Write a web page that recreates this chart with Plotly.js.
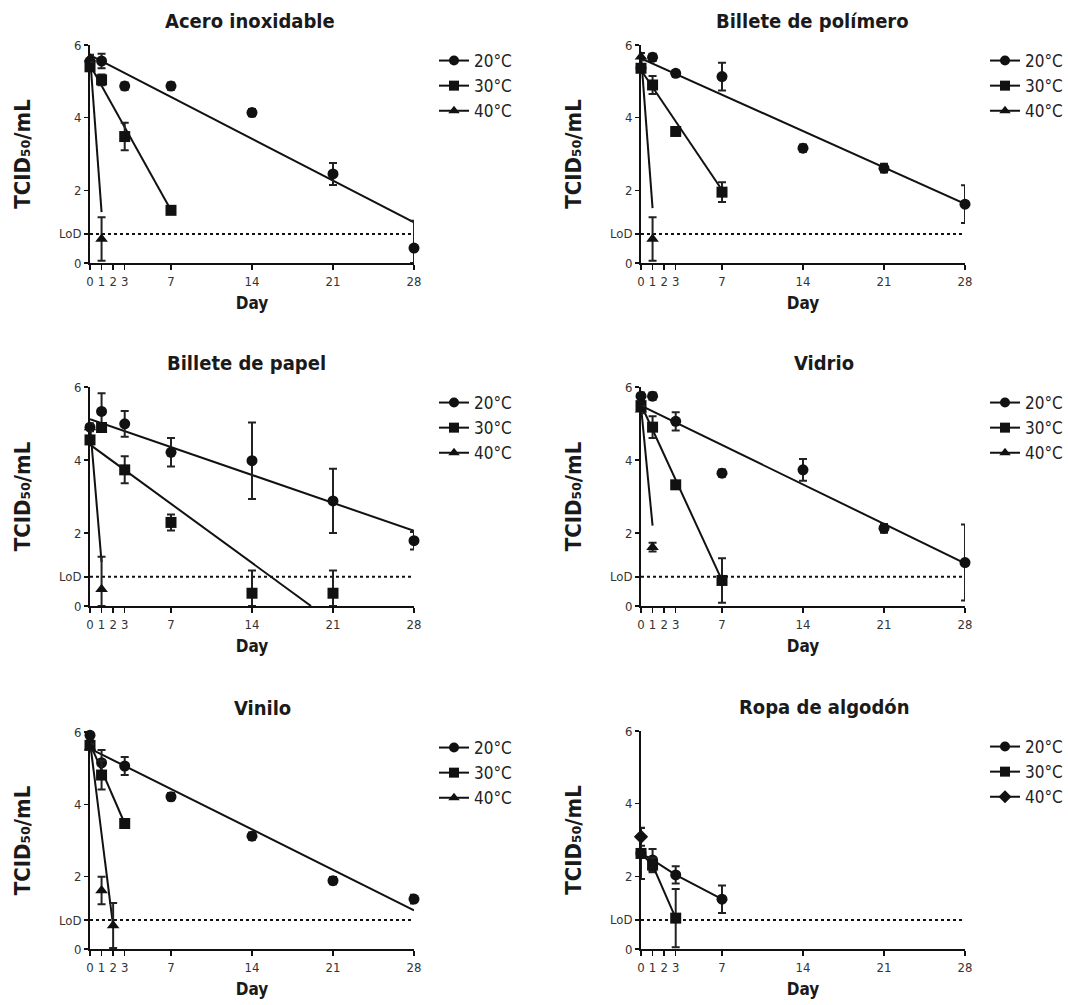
<!DOCTYPE html>
<html>
<head>
<meta charset="utf-8">
<script src="https://cdn.plot.ly/plotly-3.0.1.min.js"></script>
<style>html,body{margin:0;padding:0;background:#fff;}#chart{width:1068px;height:1005px;}</style>
</head>
<body>
<div id="chart"></div>
<script>
// ---------- DATA ----------
const LOD = 0.8;
const Y_TICKS = [0, LOD, 2, 4, 6];
const Y_TICKTEXT = ['0', 'LoD', '2', '4', '6'];
const X_TICKS = [0, 1, 2, 3, 7, 14, 21, 28];
const SERIES_NAMES = ['20°C', '30°C', '40°C'];
const X_TITLE = 'Day';
const Y_TITLE = 'TCID\u2085\u2080/mL';

const PANEL_TITLES = ['Acero inoxidable', 'Billete de polímero', 'Billete de papel', 'Vidrio', 'Vinilo', 'Ropa de algodón'];

// Acero inoxidable
const aceroDays20 = [0, 1, 3, 7, 14, 21, 28];
const acero20 = [5.55, 5.56, 4.87, 4.87, 4.14, 2.45, 0.41];
const acero20Err = [0.15, 0.2, 0.1, 0.1, 0.1, 0.3, 0.75];
const acero20ErrMinus = [0.15, 0.2, 0.1, 0.1, 0.1, 0.3, 0.41];
const aceroDays30 = [0, 1, 3, 7];
const acero30 = [5.4, 5.04, 3.48, 1.45];
const acero30Err = [0.1, 0.15, 0.38, 0.1];
const aceroDays40 = [0, 1];
const acero40 = [5.63, 0.66];
const acero40Err = [0.1, 0.6];
const acero20FitX = [0, 28], acero20FitY = [5.72, 1.12];
const acero30FitX = [0, 7], acero30FitY = [5.45, 1.45];
const acero40FitX = [0, 1], acero40FitY = [5.7, 1.4];

// Billete de polímero
const polDays20 = [0, 1, 3, 7, 14, 21, 28];
const pol20 = [5.37, 5.66, 5.22, 5.13, 3.16, 2.61, 1.62];
const pol20Err = [0.1, 0.1, 0.08, 0.38, 0.1, 0.12, 0.52];
const polDays30 = [0, 1, 3, 7];
const pol30 = [5.36, 4.9, 3.62, 1.95];
const pol30Err = [0.1, 0.25, 0.1, 0.27];
const polDays40 = [0, 1];
const pol40 = [5.68, 0.66];
const pol40Err = [0.1, 0.6];
const pol20FitX = [0, 28], pol20FitY = [5.63, 1.63];
const pol30FitX = [0, 7], pol30FitY = [5.31, 2.01];
const pol40FitX = [0, 1], pol40FitY = [5.72, 1.51];

// Billete de papel
const papDays20 = [0, 1, 3, 7, 14, 21, 28];
const pap20 = [4.9, 5.33, 4.99, 4.21, 3.98, 2.88, 1.79];
const pap20Err = [0.1, 0.5, 0.35, 0.39, 1.05, 0.88, 0.24];
const papDays30 = [0, 1, 3, 7, 14, 21];
const pap30 = [4.55, 4.89, 3.73, 2.29, 0.35, 0.35];
const pap30Err = [0.1, 0.1, 0.37, 0.22, 0.62, 0.62];
const pap30ErrMinus = [0.1, 0.1, 0.37, 0.22, 0.35, 0.35];
const papDays40 = [0, 1];
const pap40 = [4.89, 0.46];
const pap40Err = [0.1, 0.89];
const pap40ErrMinus = [0.1, 0.46];
const pap20FitX = [0, 28], pap20FitY = [5.12, 2.06];
const pap30FitX = [0, 19.1], pap30FitY = [4.42, 0];
const pap40FitX = [0, 1], pap40FitY = [4.95, 1.2];

// Vidrio
const vidDays20 = [0, 1, 3, 7, 14, 21, 28];
const vid20 = [5.75, 5.75, 5.06, 3.64, 3.73, 2.13, 1.19];
const vid20Err = [0.1, 0.1, 0.25, 0.1, 0.3, 0.12, 1.04];
const vidDays30 = [0, 1, 3, 7];
const vid30 = [5.49, 4.9, 3.32, 0.7];
const vid30Err = [0.1, 0.3, 0.05, 0.61];
const vidDays40 = [0, 1];
const vid40 = [5.38, 1.61];
const vid40Err = [0.1, 0.12];
const vid20FitX = [0, 28], vid20FitY = [5.49, 1.17];
const vid30FitX = [0, 7], vid30FitY = [5.52, 0.7];
const vid40FitX = [0, 1], vid40FitY = [5.47, 2.2];

// Vinilo
const vinDays20 = [0, 1, 3, 7, 14, 21, 28];
const vin20 = [5.91, 5.15, 5.06, 4.21, 3.12, 1.89, 1.38];
const vin20Err = [0.08, 0.35, 0.25, 0.1, 0.1, 0.1, 0.12];
const vinDays30 = [0, 1, 3];
const vin30 = [5.63, 4.81, 3.47];
const vin30Err = [0.1, 0.4, 0.08];
const vinDays40 = [0, 1, 2];
const vin40 = [5.57, 1.62, 0.65];
const vin40Err = [0.1, 0.38, 0.62];
const vin20FitX = [0, 28], vin20FitY = [5.54, 1.07];
const vin30FitX = [0, 3], vin30FitY = [5.68, 3.47];
const vin40FitX = [0, 2], vin40FitY = [5.73, 0.63];

// Ropa de algodón (points joined by lines, no fit)
const ropDays20 = [0, 1, 3, 7];
const rop20 = [2.63, 2.45, 2.04, 1.37];
const rop20Err = [0.1, 0.3, 0.24, 0.38];
const ropDays30 = [0, 1, 3];
const rop30 = [2.63, 2.31, 0.85];
const rop30Err = [0.7, 0.2, 0.8];
const ropDays40 = [0];
const rop40 = [3.09];
const rop40Err = [0.25];

// ---------- STYLE / LAYOUT ----------
const FONT = "'DejaVu Sans Condensed','Liberation Sans Narrow','Arial Narrow',sans-serif";
const INK = '#111';
const W = 1068, H = 1005;
const px = v => v / W;
const py = v => 1 - v / H;

const panels = [
  {title: PANEL_TITLES[0], x0: 90, x1: 414, y0: 263, y6: 45, titleX: 250, symbols: ['circle', 'square', 'triangle-up'],
   series: [[aceroDays20, acero20, acero20Err, acero20ErrMinus], [aceroDays30, acero30, acero30Err, acero30Err], [aceroDays40, acero40, acero40Err, acero40Err]],
   fits: [[acero20FitX, acero20FitY], [acero30FitX, acero30FitY], [acero40FitX, acero40FitY]]},
  {title: PANEL_TITLES[1], x0: 641, x1: 965, y0: 263, y6: 45, titleX: 812, symbols: ['circle', 'square', 'triangle-up'],
   series: [[polDays20, pol20, pol20Err, pol20Err], [polDays30, pol30, pol30Err, pol30Err], [polDays40, pol40, pol40Err, pol40Err]],
   fits: [[pol20FitX, pol20FitY], [pol30FitX, pol30FitY], [pol40FitX, pol40FitY]]},
  {title: PANEL_TITLES[2], x0: 90, x1: 414, y0: 606, y6: 387, titleX: 246, symbols: ['circle', 'square', 'triangle-up'],
   series: [[papDays20, pap20, pap20Err, pap20Err], [papDays30, pap30, pap30Err, pap30ErrMinus], [papDays40, pap40, pap40Err, pap40ErrMinus]],
   fits: [[pap20FitX, pap20FitY], [pap30FitX, pap30FitY], [pap40FitX, pap40FitY]]},
  {title: PANEL_TITLES[3], x0: 641, x1: 965, y0: 606, y6: 387, titleX: 824, symbols: ['circle', 'square', 'triangle-up'],
   series: [[vidDays20, vid20, vid20Err, vid20Err], [vidDays30, vid30, vid30Err, vid30Err], [vidDays40, vid40, vid40Err, vid40Err]],
   fits: [[vid20FitX, vid20FitY], [vid30FitX, vid30FitY], [vid40FitX, vid40FitY]]},
  {title: PANEL_TITLES[4], x0: 90, x1: 414, y0: 949, y6: 732, titleX: 262, symbols: ['circle', 'square', 'triangle-up'],
   series: [[vinDays20, vin20, vin20Err, vin20Err], [vinDays30, vin30, vin30Err, vin30Err], [vinDays40, vin40, vin40Err, vin40Err]],
   fits: [[vin20FitX, vin20FitY], [vin30FitX, vin30FitY], [vin40FitX, vin40FitY]]},
  {title: PANEL_TITLES[5], x0: 641, x1: 965, y0: 949, y6: 731, titleX: 824, symbols: ['circle', 'square', 'diamond'], connect: true,
   series: [[ropDays20, rop20, rop20Err, rop20Err], [ropDays30, rop30, rop30Err, rop30Err], [ropDays40, rop40, rop40Err, rop40Err]],
   fits: []}
];

const traces = [];
const layout = {
  width: W, height: H,
  margin: {l: 0, r: 0, t: 0, b: 0},
  paper_bgcolor: '#fff', plot_bgcolor: 'rgba(0,0,0,0)',
  font: {family: FONT, color: INK},
  showlegend: true,
  annotations: []
};

panels.forEach((p, i) => {
  const n = i + 1;
  const sfx = n === 1 ? '' : String(n);
  const xa = 'x' + sfx, ya = 'y' + sfx;
  const legId = 'legend' + sfx;

  layout['xaxis' + sfx] = {
    domain: [px(p.x0), px(p.x1)], range: [0, 28], anchor: ya,
    tickvals: X_TICKS, ticks: 'outside', ticklen: 5, tickwidth: 1.5, tickcolor: INK,
    showline: true, linewidth: 2, linecolor: INK, showgrid: false, zeroline: false,
    tickfont: {family: FONT, size: 13, color: '#333'}, fixedrange: true,
    title: {text: '<b>' + X_TITLE + '</b>', standoff: 10, font: {family: FONT, size: 17, color: '#1a1a1a'}}
  };
  layout['yaxis' + sfx] = {
    domain: [py(p.y0), py(p.y6)], range: [0, 6], anchor: xa,
    tickvals: Y_TICKS, ticktext: Y_TICKTEXT, ticks: 'outside', ticklen: 4, tickwidth: 1.5, tickcolor: INK,
    showline: true, linewidth: 2, linecolor: INK, showgrid: false, zeroline: false,
    tickfont: {family: FONT, size: 13, color: '#333'}, fixedrange: true,
    title: {text: '<b>' + Y_TITLE + '</b>', standoff: 22, font: {family: FONT, size: 22, color: '#1a1a1a'}}
  };
  layout[legId] = {
    x: px(p.x1 + 20), y: py(p.y6 - 2), xanchor: 'left', yanchor: 'top',
    bgcolor: 'rgba(0,0,0,0)', font: {family: FONT, size: 17, color: '#222'},
    tracegroupgap: 0, itemwidth: 30
  };

  // LoD line
  traces.push({type: 'scatter', mode: 'lines', x: [0, 28], y: [LOD, LOD], xaxis: xa, yaxis: ya,
    line: {color: INK, width: 2, dash: '3px,3px'}, showlegend: false, hoverinfo: 'skip'});

  // fit lines
  p.fits.forEach(f => {
    traces.push({type: 'scatter', mode: 'lines', x: f[0], y: f[1], xaxis: xa, yaxis: ya,
      line: {color: INK, width: 2}, showlegend: false, hoverinfo: 'skip'});
  });

  // data points with error bars
  p.series.forEach((s, k) => {
    traces.push({type: 'scatter', mode: p.connect ? 'lines+markers' : 'markers',
      x: s[0], y: s[1], xaxis: xa, yaxis: ya, cliponaxis: false,
      line: {color: INK, width: 2},
      marker: {symbol: p.symbols[k], size: 11, color: INK},
      error_y: {type: 'data', symmetric: false, array: s[2], arrayminus: s[3], color: '#222', thickness: 2, width: 4},
      name: SERIES_NAMES[k], showlegend: false});
  });

  // legend entries
  SERIES_NAMES.forEach((nm, k) => {
    traces.push({type: 'scatter', mode: 'lines+markers', x: [null], y: [null], xaxis: xa, yaxis: ya,
      name: nm, legend: legId, showlegend: true,
      line: {color: INK, width: 2}, marker: {symbol: p.symbols[k], size: 10, color: INK}});
  });

  // panel title
  layout.annotations.push({xref: 'paper', yref: 'paper', x: px(p.titleX), y: py(p.y6 - 24),
    text: '<b>' + p.title + '</b>', showarrow: false, xanchor: 'center', yanchor: 'middle',
    font: {family: FONT, size: 20, color: '#1a1a1a'}});
});

Plotly.newPlot('chart', traces, layout, {displayModeBar: false, staticPlot: true});
</script>
</body>
</html>
